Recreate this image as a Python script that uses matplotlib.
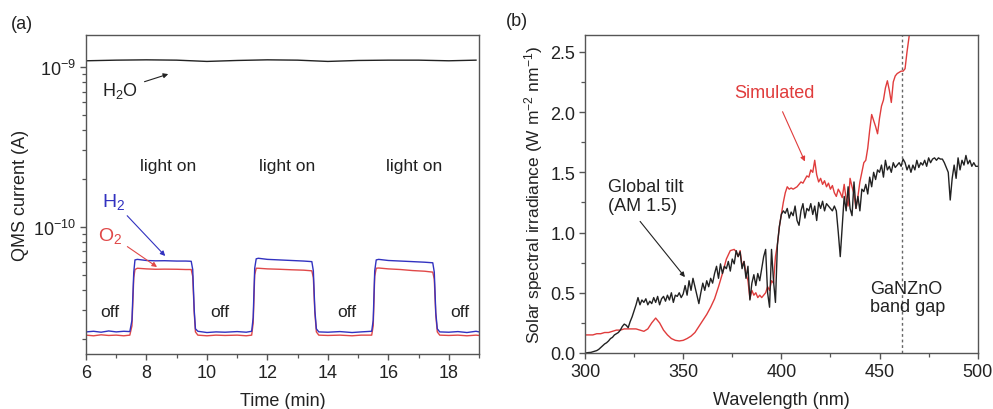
import numpy as np
import matplotlib
matplotlib.use("Agg")
import matplotlib.pyplot as plt
from matplotlib.ticker import (FixedLocator, MultipleLocator, FormatStrFormatter,
                               NullFormatter, LogFormatterSciNotation)

plt.rcParams['font.family'] = ['Liberation Sans', 'DejaVu Sans']
plt.rcParams['mathtext.default'] = 'regular'
plt.rcParams['font.size'] = 13

# ---- (a) QMS currents during light on/off cycles ----
time_min = [6.0, 6.25, 6.5, 6.75, 7.0, 7.25, 7.45, 7.52, 7.58, 7.62, 7.7, 8.0, 8.3, 8.6,
            9.0, 9.3, 9.48, 9.53, 9.58, 9.62, 9.7, 10.0, 10.3, 10.6, 11.0, 11.3, 11.48,
            11.53, 11.58, 11.63, 11.7, 12.0, 12.4, 12.8, 13.2, 13.47, 13.52, 13.57, 13.62,
            13.7, 14.0, 14.4, 14.8, 15.1, 15.45, 15.5, 15.55, 15.6, 15.68, 16.0, 16.4, 16.8,
            17.2, 17.47, 17.52, 17.57, 17.62, 17.7, 18.0, 18.3, 18.6, 18.9, 19.0]
h2_current = [2.20, 2.22, 2.19, 2.23, 2.20, 2.22, 2.21, 2.6, 5.2, 6.2, 6.25, 6.15, 6.12, 6.13,
              6.10, 6.10, 6.08, 5.4, 3.0, 2.3, 2.22, 2.18, 2.20, 2.19, 2.21, 2.19, 2.22,
              2.7, 5.5, 6.3, 6.35, 6.25, 6.20, 6.15, 6.10, 6.05, 5.3, 3.0, 2.3,
              2.20, 2.19, 2.21, 2.18, 2.20, 2.22, 2.6, 5.3, 6.2, 6.25, 6.15, 6.10, 6.05,
              6.00, 5.95, 5.2, 2.9, 2.3, 2.20, 2.19, 2.21, 2.18, 2.22, 2.20]
o2_current = [2.10, 2.08, 2.11, 2.09, 2.10, 2.08, 2.10, 2.4, 4.8, 5.4, 5.5, 5.45, 5.42, 5.43,
              5.42, 5.40, 5.40, 4.9, 2.9, 2.2, 2.10, 2.08, 2.10, 2.09, 2.10, 2.08, 2.10,
              2.5, 5.0, 5.5, 5.5, 5.45, 5.42, 5.38, 5.35, 5.30, 4.8, 2.9, 2.2,
              2.10, 2.09, 2.10, 2.08, 2.10, 2.10, 2.4, 4.9, 5.5, 5.52, 5.45, 5.40, 5.32,
              5.27, 5.20, 4.7, 2.8, 2.2, 2.10, 2.09, 2.10, 2.08, 2.10, 2.09]
h2o_time = [6, 7, 8, 9, 10, 11, 12, 13, 14, 15, 16, 17, 18, 18.9]
h2o_current = [1.09, 1.10, 1.105, 1.10, 1.08, 1.095, 1.105, 1.10, 1.08, 1.095, 1.10, 1.10, 1.09, 1.10]

light_on_x = [8.72, 12.66, 16.84]
off_x = [6.79, 10.44, 14.64, 18.35]

# ---- (b) solar spectra ----
am15_nm = list(range(300, 501))
am15_irr = [0.00, 0.002, 0.004, 0.005, 0.01, 0.015, 0.02, 0.03, 0.045, 0.06, 0.075, 0.085, 0.10,
            0.12, 0.13, 0.15, 0.16, 0.17, 0.19, 0.22, 0.24, 0.23, 0.21, 0.26, 0.30, 0.35, 0.40,
            0.46, 0.40, 0.44, 0.42, 0.45, 0.40, 0.43, 0.41, 0.46, 0.42, 0.47, 0.40, 0.45, 0.47,
            0.43, 0.48, 0.44, 0.50, 0.42, 0.48, 0.47, 0.50, 0.46, 0.49, 0.56, 0.48, 0.60, 0.52,
            0.62, 0.55, 0.48, 0.41, 0.50, 0.58, 0.52, 0.60, 0.55, 0.62, 0.58, 0.66, 0.72, 0.62,
            0.74, 0.66, 0.72, 0.70, 0.76, 0.68, 0.78, 0.74, 0.85, 0.80, 0.84, 0.70, 0.76, 0.62,
            0.72, 0.44, 0.58, 0.65, 0.56, 0.66, 0.60, 0.70, 0.80, 0.86, 0.50, 0.38, 0.86, 0.60,
            0.42, 0.90, 1.05, 1.15, 1.18, 1.16, 1.20, 1.12, 1.17, 1.14, 1.22, 1.10, 1.06, 1.18,
            1.24, 1.12, 1.20, 1.18, 1.24, 1.15, 1.22, 1.10, 1.25, 1.20, 1.26, 1.18, 1.24, 1.22,
            1.20, 1.18, 1.22, 1.18, 1.00, 0.80, 1.05, 1.30, 1.18, 1.38, 1.20, 1.14, 1.42, 1.20,
            1.30, 1.18, 1.36, 1.34, 1.40, 1.32, 1.46, 1.38, 1.50, 1.44, 1.52, 1.50, 1.56, 1.46,
            1.60, 1.52, 1.55, 1.50, 1.58, 1.54, 1.56, 1.58, 1.55, 1.61, 1.58, 1.52, 1.56, 1.50,
            1.56, 1.52, 1.60, 1.54, 1.58, 1.56, 1.60, 1.55, 1.62, 1.58, 1.61, 1.62, 1.60, 1.62,
            1.61, 1.61, 1.58, 1.54, 1.50, 1.27, 1.45, 1.56, 1.45, 1.62, 1.52, 1.60, 1.56, 1.64,
            1.57, 1.60, 1.55, 1.58, 1.55, 1.55]
sim_nm = [300, 302, 304, 306, 308, 310, 312, 314, 316, 318, 320, 322, 324, 326, 328, 330, 332,
          334, 336, 338, 340, 342, 344, 346, 348, 350, 352, 354, 356, 358, 360, 362, 364, 366,
          368, 370, 372, 374, 376, 377, 378, 379, 380, 381, 382, 383, 384, 385, 386, 387, 388,
          389, 390, 391, 392, 393, 394, 395, 396, 397, 398, 399, 400, 401, 402, 403, 404, 405,
          406, 407, 408, 409, 410, 411, 412, 413, 414, 415, 416, 417, 418, 419, 420, 421, 422,
          423, 424, 425, 426, 427, 428, 429, 430, 431, 432, 433, 434, 435, 436, 437, 438, 439,
          440, 441, 442, 443, 444, 445, 446, 447, 448, 449, 450, 451, 452, 453, 454, 455, 456,
          457, 458, 459, 460, 461, 462, 463, 464, 465, 466]
sim_irr = [0.15, 0.15, 0.15, 0.16, 0.16, 0.17, 0.17, 0.18, 0.19, 0.19, 0.20, 0.20, 0.20, 0.20,
           0.19, 0.18, 0.20, 0.25, 0.29, 0.25, 0.19, 0.15, 0.12, 0.105, 0.10, 0.105, 0.12, 0.14,
           0.17, 0.22, 0.27, 0.32, 0.38, 0.45, 0.55, 0.66, 0.78, 0.85, 0.86, 0.84, 0.80, 0.85,
           0.72, 0.76, 0.66, 0.60, 0.45, 0.52, 0.48, 0.50, 0.46, 0.48, 0.46, 0.48, 0.50, 0.55,
           0.52, 0.60, 0.58, 0.80, 0.90, 1.05, 1.15, 1.25, 1.33, 1.38, 1.36, 1.37, 1.36, 1.37,
           1.38, 1.40, 1.42, 1.41, 1.44, 1.47, 1.46, 1.52, 1.50, 1.60, 1.48, 1.42, 1.45, 1.40,
           1.43, 1.38, 1.41, 1.36, 1.39, 1.33, 1.30, 1.36, 1.33, 1.29, 1.40, 1.28, 1.22, 1.45,
           1.38, 1.32, 1.20, 1.30, 1.42, 1.50, 1.58, 1.60, 1.70, 1.85, 1.98, 1.93, 1.88, 1.82,
           1.95, 2.05, 2.10, 2.20, 2.26, 2.18, 2.08, 2.25, 2.30, 2.32, 2.33, 2.34, 2.34, 2.36,
           2.50, 2.62, 2.75]
band_gap_nm = 461.6

text_c = '#222222'
frame_c = '#555555'

fig = plt.figure(figsize=(9.93, 4.10), dpi=100)
ax1 = fig.add_axes([0.0866, 0.1341, 0.3958, 0.7781])
ax2 = fig.add_axes([0.5891, 0.1366, 0.3955, 0.7756])

for ax in (ax1, ax2):
    for s in ax.spines.values():
        s.set_color(frame_c)
        s.set_linewidth(1.0)
    ax.tick_params(which='both', direction='out', color=frame_c, labelcolor=text_c)
    ax.tick_params(which='major', length=4, width=1.0, pad=3)
    ax.tick_params(which='minor', length=3, width=0.9)

# panel (a)
t = np.array(time_min)
ax1.plot(t, np.array(o2_current) * 1e-11, color='#e04848', lw=1.0)
ax1.plot(t, np.array(h2_current) * 1e-11, color='#3232c0', lw=1.0)
ax1.plot(h2o_time, np.array(h2o_current) * 1e-9, color='#222222', lw=1.0)
ax1.set_yscale('log')
ax1.set_xlim(6, 19)
ax1.set_ylim(1.6e-11, 1.58e-9)
ax1.yaxis.set_major_locator(FixedLocator([1e-10, 1e-9]))
ax1.yaxis.set_major_formatter(LogFormatterSciNotation())
ax1.yaxis.set_minor_locator(FixedLocator([m * d for d in (1e-11, 1e-10, 1e-9) for m in range(2, 10)]))
ax1.yaxis.set_minor_formatter(NullFormatter())
ax1.xaxis.set_major_locator(MultipleLocator(2))
ax1.xaxis.set_minor_locator(MultipleLocator(1))
ax1.set_xlabel('Time (min)', color=text_c, labelpad=8)
ax1.set_ylabel('QMS current (A)', color=text_c, labelpad=3)

for x in light_on_x:
    ax1.text(x, 2.4e-10, 'light on', ha='center', va='center', color=text_c, fontsize=12.5)
for x in off_x:
    ax1.text(x, 2.93e-11, 'off', ha='center', va='center', color=text_c, fontsize=12.5)

ax1.annotate('H$_2$O', xy=(8.72, 9.0e-10), xytext=(7.12, 7.2e-10), ha='center', va='center',
             color=text_c, fontsize=13,
             arrowprops=dict(arrowstyle='-|>', color='#222222', lw=0.8, mutation_scale=7,
                             shrinkA=3, shrinkB=0))
ax1.annotate('H$_2$', xy=(8.62, 6.56e-11), xytext=(6.9, 1.45e-10), ha='center', va='center',
             color='#3232c0', fontsize=14,
             arrowprops=dict(arrowstyle='-|>', color='#3232c0', lw=0.8, mutation_scale=7,
                             shrinkA=2, shrinkB=0))
ax1.annotate('O$_2$', xy=(8.35, 5.6e-11), xytext=(6.8, 8.9e-11), ha='center', va='center',
             color='#e04848', fontsize=14,
             arrowprops=dict(arrowstyle='-|>', color='#e04848', lw=0.8, mutation_scale=7,
                             shrinkA=2, shrinkB=0))

# panel (b)
ax2.plot(sim_nm, sim_irr, color='#e03c3c', lw=1.0)
ax2.plot(am15_nm, am15_irr, color='#222222', lw=1.0)
ax2.axvline(band_gap_nm, color='#666666', lw=1.0, ls=(0, (2, 2)))
ax2.set_xlim(300, 500)
ax2.set_ylim(0, 2.64)
ax2.xaxis.set_major_locator(MultipleLocator(50))
ax2.xaxis.set_minor_locator(MultipleLocator(25))
ax2.yaxis.set_major_locator(MultipleLocator(0.5))
ax2.yaxis.set_minor_locator(MultipleLocator(0.25))
ax2.yaxis.set_major_formatter(FormatStrFormatter('%.1f'))
ax2.set_xlabel('Wavelength (nm)', color=text_c, labelpad=8)
ax2.set_ylabel('Solar spectral irradiance (W m$^{-2}$ nm$^{-1}$)', color=text_c, labelpad=4,
               fontsize=12.5)

ax2.annotate('Simulated', xy=(412, 1.59), xytext=(396.3, 2.16), ha='center', va='center',
             color='#e03c3c', fontsize=13,
             arrowprops=dict(arrowstyle='-|>', color='#e03c3c', lw=0.8, mutation_scale=7,
                             shrinkA=6, shrinkB=0))
ax2.annotate('Global tilt\n(AM 1.5)', xy=(350.9, 0.63), xytext=(311.7, 1.45), ha='left', va='top',
             color=text_c, fontsize=13, linespacing=1.15,
             arrowprops=dict(arrowstyle='-|>', color='#222222', lw=0.8, mutation_scale=7,
                             shrinkA=4, shrinkB=0, relpos=(0.35, 0.0)))
ax2.text(445.2, 0.61, 'GaNZnO\nband gap', ha='left', va='top', color=text_c, fontsize=13,
         linespacing=1.15)

fig.text(0.022, 0.94, '(a)', ha='center', va='center', color=text_c, fontsize=13)
fig.text(0.521, 0.947, '(b)', ha='center', va='center', color=text_c, fontsize=13)

fig.savefig('out.png', dpi=100)
